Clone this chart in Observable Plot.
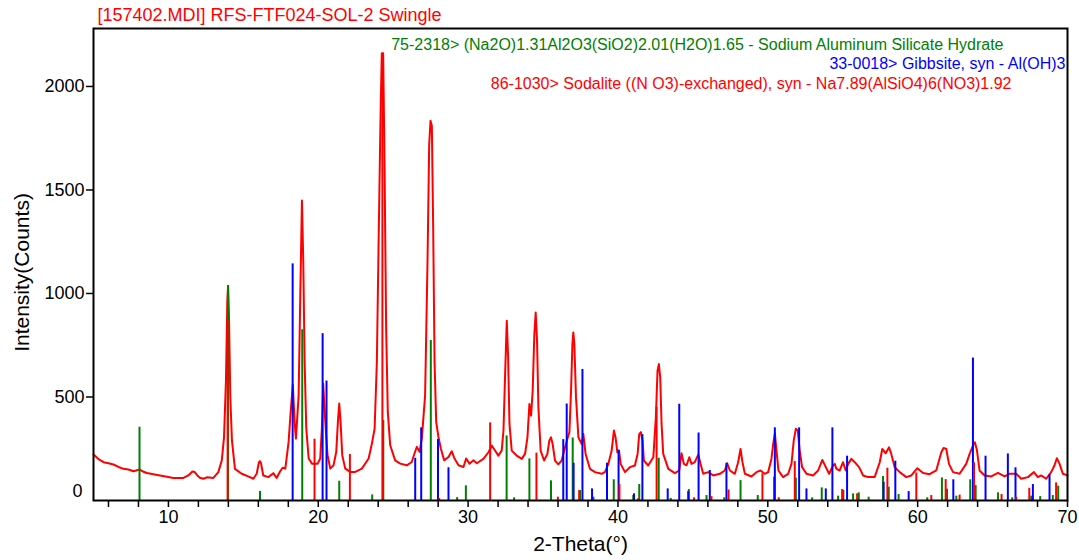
<!DOCTYPE html>
<html><head><meta charset="utf-8">
<script src="https://cdn.jsdelivr.net/npm/d3@7"></script>
<script src="https://cdn.jsdelivr.net/npm/@observablehq/plot@0.6"></script>
<style>
html,body{margin:0;padding:0;background:#fff;}
#chart svg{display:block;}
</style></head><body><div id="chart"></div>
<script>
// Measured pattern: 2-Theta (deg) and intensity (counts)
const traceTheta = [5.0,5.33,5.67,6.0,6.33,6.67,7.0,7.33,7.67,8.07,8.3,8.56,9.0,9.44,9.9,10.33,11.0,11.33,11.6,11.75,11.93,12.1,12.33,12.6,13.0,13.33,13.56,13.71,13.84,13.93,13.98,14.04,14.13,14.24,14.44,14.89,15.44,15.67,15.89,16.04,16.11,16.18,16.33,16.67,17.0,17.22,17.45,17.62,17.8,18.02,18.15,18.3,18.42,18.51,18.69,18.8,18.91,19.0,19.09,19.2,19.36,19.58,19.96,20.13,20.24,20.33,20.42,20.51,20.62,20.8,21.02,21.2,21.31,21.4,21.49,21.6,21.8,22.13,22.47,22.91,23.36,23.58,23.76,23.91,24.04,24.16,24.24,24.33,24.42,24.53,24.64,24.8,25.13,25.47,25.91,26.24,26.42,26.58,26.76,26.91,27.13,27.29,27.4,27.49,27.58,27.67,27.76,27.87,28.02,28.18,28.4,28.69,28.91,29.09,29.36,29.69,29.87,30.09,30.36,30.58,31.02,31.36,31.58,31.73,32.02,32.24,32.36,32.47,32.58,32.67,32.76,32.91,33.24,33.58,33.8,33.96,34.09,34.2,34.31,34.42,34.51,34.6,34.69,34.84,35.07,35.29,35.42,35.53,35.64,35.8,36.02,36.24,36.47,36.62,36.76,36.87,36.96,37.02,37.09,37.2,37.36,37.58,37.69,37.84,38.13,38.47,38.91,39.13,39.36,39.58,39.73,39.84,39.96,40.07,40.18,40.47,40.8,41.13,41.31,41.42,41.53,41.64,41.73,42.02,42.36,42.53,42.64,42.73,42.82,42.91,43.02,43.36,43.8,44.09,44.24,44.4,44.58,44.76,44.91,45.13,45.36,45.51,45.69,46.02,46.36,46.8,47.13,47.29,47.47,47.8,48.02,48.18,48.31,48.47,48.91,49.24,49.51,49.8,50.02,50.24,50.36,50.47,50.58,50.71,51.02,51.36,51.58,51.73,51.87,52.0,52.13,52.29,52.58,53.02,53.36,53.64,53.87,54.09,54.36,54.47,54.58,54.8,55.02,55.2,55.36,55.58,55.8,56.09,56.36,56.69,57.13,57.47,57.64,57.87,58.09,58.24,58.47,58.8,59.24,59.58,59.98,60.36,60.8,61.24,61.58,61.73,61.91,62.09,62.36,62.8,63.24,63.47,63.69,63.82,63.96,64.13,64.47,64.91,65.36,65.8,66.13,66.58,66.91,67.36,67.76,68.02,68.24,68.58,68.91,69.13,69.29,69.47,69.69,69.91,70.0];
const traceCounts = [222,200,185,180,174,162,153,150,141,150,140,133,127,121,115,109,109,121,140,138,121,110,105,112,109,137,193,305,579,965,1037,900,498,289,153,129,113,105,129,185,190,180,121,113,132,109,140,158,154,283,420,560,380,299,508,990,1449,1152,669,347,203,178,178,203,347,564,444,331,219,154,170,235,380,468,380,219,154,138,138,154,203,275,347,669,1312,1875,2161,2161,1634,830,428,267,194,178,170,186,227,259,235,299,508,1152,1714,1834,1810,1312,669,380,307,251,194,210,238,203,170,162,203,178,194,180,201,233,265,249,217,241,338,611,868,691,370,241,217,201,225,305,466,410,531,804,908,772,450,241,193,225,289,305,273,193,174,193,257,297,330,531,756,812,756,498,305,273,321,225,153,137,129,137,177,241,338,305,233,241,177,137,161,169,225,321,330,290,193,169,209,402,627,659,595,370,225,153,132,145,228,177,170,209,177,185,222,177,129,137,121,129,145,180,145,129,185,249,185,129,116,137,145,129,137,201,273,325,241,145,113,129,177,289,346,338,241,161,129,121,145,196,161,129,169,177,153,145,185,145,177,201,185,161,121,113,113,185,249,228,257,225,161,137,113,121,156,133,127,145,233,254,249,177,137,129,177,225,265,281,241,145,121,116,133,116,129,129,105,113,137,113,121,105,137,169,204,177,129,124,120];

// 75-2318> Sodium Aluminum Silicate Hydrate (green)
const greenTheta = [8.07,13.98,16.11,18.93,21.4,23.6,24.34,27.51,29.27,29.85,32.57,33.07,34.09,35.53,36.98,37.47,38.36,39.72,41.02,41.42,42.72,43.52,44.73,45.91,47.09,48.18,49.33,50.42,51.87,52.96,53.6,54.69,55.04,55.69,56.07,56.73,57.69,58.07,58.73,60.64,61.62,61.96,62.58,63.51,63.87,65.36,66.31,67.58,68.18,69.02,69.38];
const greenCounts = [354,1037,44,825,93,27,386,773,14,71,312,13,201,95,302,48,16,100,24,77,204,10,53,24,13,96,24,113,108,13,61,21,48,32,37,16,116,64,29,13,109,55,21,100,72,37,13,21,19,24,69];

// 33-0018> Gibbsite, syn - Al(OH)3 (blue)
const blueTheta = [18.29,20.29,20.55,26.47,26.87,27.99,28.69,36.35,36.58,37.04,37.63,38.27,39.27,40.04,41.07,41.63,43.32,44.09,44.69,45.38,46.13,47.24,50.47,52.09,52.58,53.87,54.31,55.29,57.73,58.51,59.4,62.38,63.69,64.53,66.02,66.53,67.69,68.8];
const blueCounts = [1143,806,577,204,351,295,158,294,466,180,633,56,180,243,32,318,56,465,43,326,145,180,351,351,56,56,351,214,88,190,43,100,688,214,225,158,77,124];

// 86-1030> Sodalite (red)
const redTheta = [13.95,19.75,22.11,24.28,28.07,31.47,34.56,35.99,37.41,40.1,41.35,42.58,45.08,46.24,47.38,49.64,50.73,51.8,54.96,55.96,57.98,59.91,60.91,61.87,62.8,63.76,65.6,66.58,67.45,69.24];
const redCounts = [870,296,222,2100,10,375,229,16,48,77,9,450,13,19,51,129,13,188,53,32,156,133,24,101,26,182,29,16,59,85];

const xTicks = [6,8,10,12,14,16,18,20,22,24,26,28,30,32,34,36,38,40,42,44,46,48,50,52,54,56,58,60,62,64,66,68,70];
const yTicks = [500,1000,1500,2000];
const yZeroTick = [0];

const titleText = "[157402.MDI] RFS-FTF024-SOL-2 Swingle";
const greenLabel = "75-2318> (Na2O)1.31Al2O3(SiO2)2.01(H2O)1.65 - Sodium Aluminum Silicate Hydrate";
const blueLabel = "33-0018> Gibbsite, syn - Al(OH)3";
const redLabel = "86-1030> Sodalite ((N O3)-exchanged), syn - Na7.89(AlSiO4)6(NO3)1.92";
const xLabel = "2-Theta(°)";
const yLabel = "Intensity(Counts)";

const trace = traceTheta.map((x, i) => ({x, y: traceCounts[i]}));
const toSticks = (t, c) => t.map((x, i) => ({x, y: c[i]}));
const green = toSticks(greenTheta, greenCounts);
const blue = toSticks(blueTheta, blueCounts);
const red = toSticks(redTheta, redCounts);

const font = "'Liberation Sans', Arial, Helvetica, sans-serif";

const chart = Plot.plot({
  width: 1079, height: 560,
  marginLeft: 93, marginRight: 12, marginTop: 28, marginBottom: 60,
  style: {fontFamily: font, fontSize: "18px", color: "#000", background: "#fff"},
  x: {domain: [5, 70], label: null},
  y: {domain: [0, 2280], label: null},
  marks: [
    Plot.line(trace, {x: "x", y: "y", stroke: "#ff0000", strokeWidth: 2}),
    Plot.ruleX(green, {x: "x", y1: 0, y2: "y", stroke: "#008000", strokeWidth: 2}),
    Plot.ruleX(blue, {x: "x", y1: 0, y2: "y", stroke: "#0000ff", strokeWidth: 2}),
    Plot.ruleX(red, {x: "x", y1: 0, y2: "y", stroke: "#ff0000", strokeWidth: 2}),
    Plot.frame({stroke: "#000", strokeWidth: 2}),
    Plot.axisX({ticks: xTicks, tickSize: 7, tickPadding: 3, strokeWidth: 1.5,
      tickFormat: d => (d % 10 === 0 ? String(d) : ""), fontSize: 18, label: null}),
    Plot.axisY({ticks: yTicks, tickSize: 7, tickPadding: 2, strokeWidth: 1.5,
      tickFormat: d => String(d), fontSize: 18, label: null}),
    Plot.axisY({ticks: yZeroTick, tickSize: 0, tickPadding: 11, dy: -9,
      tickFormat: d => String(d), fontSize: 18, label: null}),
    Plot.text([xLabel], {frameAnchor: "bottom", textAnchor: "middle", lineAnchor: "middle", dy: 44, fontSize: 21, fill: "#000"}),
    Plot.text([yLabel], {frameAnchor: "left", textAnchor: "middle", lineAnchor: "middle", rotate: -90, dx: -71, dy: 8, fontSize: 21, fill: "#000"}),
    Plot.text([titleText], {frameAnchor: "top-left", textAnchor: "start", lineAnchor: "middle", dx: 4, dy: -13, fontSize: 18, fill: "#ff0000"}),
    Plot.text([greenLabel], {frameAnchor: "top-right", textAnchor: "end", lineAnchor: "middle", dx: -64, dy: 16, fontSize: 16, fill: "#008000"}),
    Plot.text([blueLabel], {frameAnchor: "top-right", textAnchor: "end", lineAnchor: "middle", dx: -2, dy: 35, fontSize: 16, fill: "#0000ff"}),
    Plot.text([redLabel], {frameAnchor: "top-right", textAnchor: "end", lineAnchor: "middle", dx: -56, dy: 55, fontSize: 16, fill: "#ff0000"})
  ]
});
document.getElementById("chart").appendChild(chart);
</script>
</body></html>
